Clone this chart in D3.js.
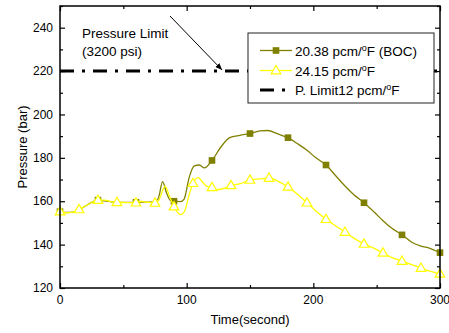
<!DOCTYPE html>
<html>
<head>
<meta charset="utf-8">
<script src="https://cdn.jsdelivr.net/npm/d3@7"></script>
<style>
  body { margin: 0; background: #fff; }
  svg { display: block; font-family: "Liberation Sans", Arial, sans-serif; }
</style>
</head>
<body>
<div id="chart"></div>
<script>
// Reactor pressure transient, two moderator temperature coefficients

// time (s) / pressure (bar) for the 20.38 pcm/F (BOC) case
const timeBoc = [0, 5, 10, 15, 22, 30, 35, 45, 52, 60, 67, 75, 78, 81, 84, 87, 90, 95, 98, 102, 106, 110, 114, 120, 127, 134, 142, 150, 158, 164, 172, 180, 187, 195, 202, 210, 218, 225, 232, 240, 248, 255, 262, 270, 278, 285, 292, 300];
const pressBoc = [155.2, 154.8, 155, 156, 158.5, 160.5, 160.2, 159.5, 159.5, 159.5, 159.6, 159.7, 162, 169, 164, 160.5, 160, 159.8, 161, 171, 176.3, 176.7, 175.4, 178.8, 185, 189.3, 190.4, 191.2, 192.4, 192.6, 191, 189.3, 186.7, 183.5, 180, 176.7, 171.5, 167, 163, 159.3, 155, 151, 147.5, 144.5, 141, 139.3, 138.3, 136.3];

// same for the 24.15 pcm/F case
const timeHot = [0, 5, 10, 15, 22, 30, 35, 40, 45, 52, 60, 64, 67, 70, 75, 78, 83, 86, 90, 95, 98, 102, 105, 109, 113, 116, 120, 124, 130, 135, 142, 150, 158, 165, 172, 180, 187, 195, 202, 210, 218, 225, 232, 240, 248, 255, 262, 270, 278, 285, 292, 300];
const pressHot = [155.2, 154.7, 155, 156.2, 158.5, 160.5, 160.5, 159.8, 159.5, 159.4, 159.3, 160, 159.6, 159.5, 159.2, 160.5, 167, 163, 157.5, 153.8, 155, 163, 168.3, 170.9, 168.5, 166.8, 166.4, 165.3, 166, 167.3, 168, 169.8, 170.3, 170.7, 169.3, 166.6, 163.5, 159.3, 155.5, 151.7, 148.5, 145.8, 143, 140.3, 138.3, 136.2, 134, 132.4, 130.7, 129.2, 127.8, 126.5];

const pressureLimit = 220;
const seriesNames = ["20.38 pcm/", "24.15 pcm/", "P. Limit12 pcm/"];
const seriesTails = ["F (BOC)", "F", "F"];
const xTicks = [0, 100, 200, 300];
const yTicks = [120, 140, 160, 180, 200, 220, 240];

const width = 449;
const height = 333;
const margin = { top: 6, right: 9, bottom: 45, left: 60 };

const olive = "#808000";
const yellow = "#ffff00";

let svg = d3
  .select("#chart")
  .append("svg")
  .attr("width", width)
  .attr("height", height);

const x = d3
  .scaleLinear()
  .domain([0, 300])
  .range([margin.left, width - margin.right]);
const y = d3
  .scaleLinear()
  .domain([120, 250])
  .range([height - margin.bottom, margin.top]);

// limit line first, everything else sits on top
const limitDash = "14,8,3,8";
svg
  .append("line")
  .attr("x1", x(0))
  .attr("x2", x(300))
  .attr("y1", y(pressureLimit))
  .attr("y2", y(pressureLimit))
  .attr("stroke", "black")
  .attr("stroke-width", 3)
  .attr("stroke-dasharray", limitDash);

const line = d3
  .line()
  .x((d) => x(d[0]))
  .y((d) => y(d[1]))
  .curve(d3.curveMonotoneX);

const bocData = timeBoc.map((t, i) => [t, pressBoc[i]]);
const hotData = timeHot.map((t, i) => [t, pressHot[i]]);

svg
  .append("path")
  .datum(bocData)
  .attr("d", line)
  .attr("fill", "none")
  .attr("stroke", olive)
  .attr("stroke-width", 1.3);

svg
  .selectAll(".sq")
  .data(bocData.filter((d) => d[0] % 30 === 0))
  .enter()
  .append("path")
  .attr("class", "sq")
  .attr("d", d3.symbol(d3.symbolSquare, 44))
  .attr("transform", (d) => `translate(${x(d[0])},${y(d[1])})`)
  .attr("fill", olive);

svg
  .append("path")
  .datum(hotData)
  .attr("d", line)
  .attr("fill", "none")
  .attr("stroke", yellow)
  .attr("stroke-width", 1.3);

svg
  .selectAll(".tri")
  .data(hotData.filter((d) => d[0] % 15 === 0))
  .enter()
  .append("path")
  .attr("class", "tri")
  .attr("d", d3.symbol(d3.symbolTriangle, 40))
  .attr("transform", (d) => `translate(${x(d[0])},${y(d[1]) + 0.5})`)
  .attr("fill", "white")
  .attr("stroke", yellow)
  .attr("stroke-width", 1.2);

// axes, ticks pointing inwards on all four sides
const plotW = x(300) - x(0);
const plotH = y(120) - y(250);

svg
  .append("g")
  .attr("transform", `translate(0,${y(120)})`)
  .call(d3.axisBottom(x).tickValues(d3.range(0, 301, 50)).tickSize(-5).tickFormat(""))
  .call((g) => g.selectAll(".tick line").attr("y2", (d) => (d % 100 === 0 ? -5 : -3)));

svg
  .append("g")
  .attr("transform", `translate(0,${y(250)})`)
  .call(d3.axisTop(x).tickValues(d3.range(0, 301, 50)).tickSize(-5).tickFormat(""))
  .call((g) => g.selectAll(".tick line").attr("y2", (d) => (d % 100 === 0 ? 5 : 3)));

svg
  .append("g")
  .attr("transform", `translate(${x(0)},0)`)
  .call(d3.axisLeft(y).tickValues(d3.range(120, 251, 10)).tickSize(-5).tickFormat(""))
  .call((g) => g.selectAll(".tick line").attr("x2", (d) => (d % 20 === 0 ? 5 : 3)));

svg
  .append("g")
  .attr("transform", `translate(${x(300)},0)`)
  .call(d3.axisRight(y).tickValues(d3.range(120, 251, 10)).tickSize(-5).tickFormat(""))
  .call((g) => g.selectAll(".tick line").attr("x2", (d) => (d % 20 === 0 ? -5 : -3)));

svg.selectAll(".domain").remove();
svg.selectAll(".tick line").attr("stroke", "black").attr("stroke-width", 1.2);

svg
  .append("rect")
  .attr("x", x(0))
  .attr("y", y(250))
  .attr("width", plotW)
  .attr("height", plotH)
  .attr("fill", "none")
  .attr("stroke", "black")
  .attr("stroke-width", 1.5);

// tick labels
svg
  .selectAll(".xlab")
  .data(xTicks)
  .enter()
  .append("text")
  .attr("x", (d) => x(d))
  .attr("y", y(120) + 16)
  .attr("text-anchor", "middle")
  .style("font-size", "12px")
  .text((d) => d);

svg
  .selectAll(".ylab")
  .data(yTicks)
  .enter()
  .append("text")
  .attr("x", x(0) - 7)
  .attr("y", (d) => y(d))
  .attr("dy", "0.35em")
  .attr("text-anchor", "end")
  .style("font-size", "12px")
  .text((d) => d);

// axis titles
svg
  .append("text")
  .attr("x", x(150))
  .attr("y", height - 9)
  .attr("text-anchor", "middle")
  .style("font-size", "13px")
  .text("Time(second)");

svg
  .append("text")
  .attr("transform", `translate(27,${(y(120) + y(250)) / 2}) rotate(-90)`)
  .attr("text-anchor", "middle")
  .style("font-size", "13px")
  .text("Pressure (bar)");

// annotation with arrow
svg
  .append("defs")
  .append("marker")
  .attr("id", "arrowhead")
  .attr("viewBox", "0 0 10 10")
  .attr("refX", 10)
  .attr("refY", 5)
  .attr("markerWidth", 7)
  .attr("markerHeight", 7)
  .attr("orient", "auto")
  .append("path")
  .attr("d", "M0,1 L10,5 L0,9 Z")
  .attr("fill", "black");

svg
  .append("line")
  .attr("x1", 170)
  .attr("y1", 16)
  .attr("x2", x(128))
  .attr("y2", y(pressureLimit) - 1)
  .attr("stroke", "black")
  .attr("stroke-width", 1)
  .attr("marker-end", "url(#arrowhead)");

svg
  .append("text")
  .attr("x", 82)
  .attr("y", 38)
  .style("font-size", "13.5px")
  .text("Pressure Limit");
svg
  .append("text")
  .attr("x", 82)
  .attr("y", 56)
  .style("font-size", "13.5px")
  .text("(3200 psi)");

// legend
const legend = svg.append("g").attr("transform", "translate(248,33)");
legend
  .append("rect")
  .attr("width", 186)
  .attr("height", 70)
  .attr("fill", "white")
  .attr("stroke", "#222")
  .attr("stroke-width", 1);

const rows = [17.5, 37.5, 57];
seriesNames.forEach((name, i) => {
  let row = legend.append("g").attr("transform", `translate(0,${rows[i]})`);
  let sample = row
    .append("line")
    .attr("x1", 12)
    .attr("x2", 44)
    .attr("y1", 0)
    .attr("y2", 0);
  if (i === 0) {
    sample.attr("stroke", olive).attr("stroke-width", 1.3);
    row
      .append("path")
      .attr("d", d3.symbol(d3.symbolSquare, 44))
      .attr("transform", "translate(28,0)")
      .attr("fill", olive);
  } else if (i === 1) {
    sample.attr("stroke", yellow).attr("stroke-width", 1.3);
    row
      .append("path")
      .attr("d", d3.symbol(d3.symbolTriangle, 40))
      .attr("transform", "translate(28,0.5)")
      .attr("fill", "white")
      .attr("stroke", yellow)
      .attr("stroke-width", 1.2);
  } else {
    sample.attr("stroke", "black").attr("stroke-width", 3).attr("stroke-dasharray", limitDash);
  }
  let label = row
    .append("text")
    .attr("x", 47)
    .attr("y", 5)
    .style("font-size", "13.5px");
  label.append("tspan").text(name);
  label.append("tspan").attr("dy", -5).style("font-size", "9px").text("o");
  label.append("tspan").attr("dy", 5).text(seriesTails[i]);
});
</script>
</body>
</html>
